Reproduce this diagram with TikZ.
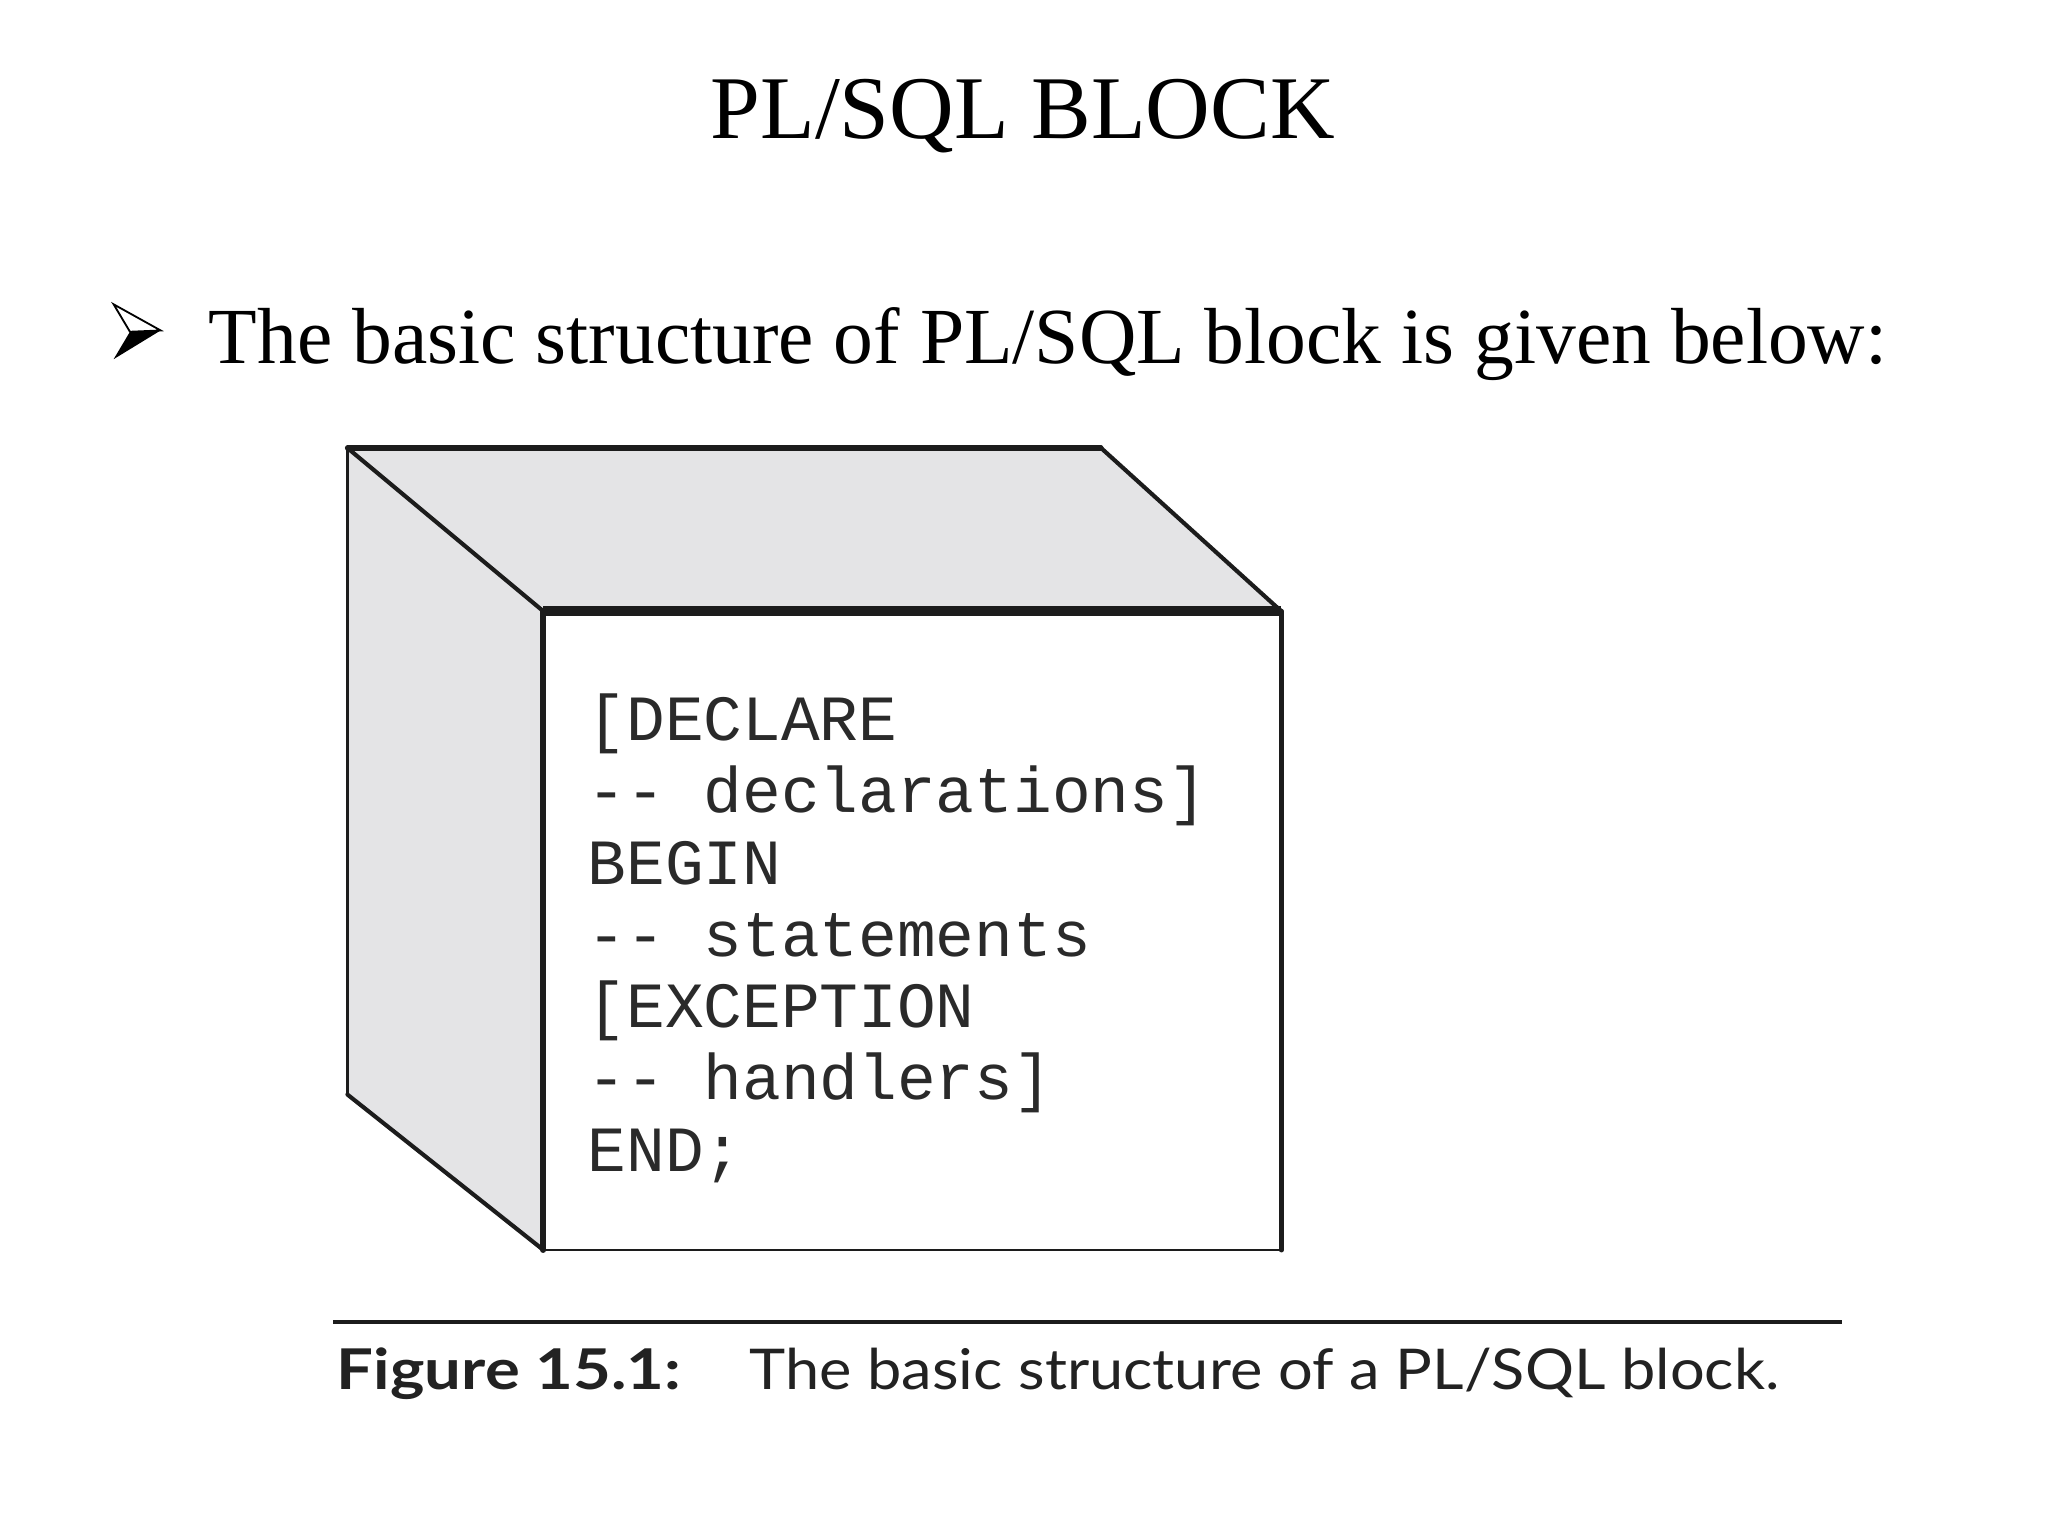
\documentclass[tikz,border=0pt]{standalone}
\usepackage{fontspec}
\setmainfont{Liberation Serif}
\newfontfamily\codefont{Liberation Mono}
\newfontfamily\capfont{Lato}
\definecolor{facegray}{HTML}{E4E4E6}
\definecolor{boxline}{HTML}{1C1C1C}
\definecolor{codegray}{HTML}{2A2A2A}
\definecolor{capgray}{HTML}{222222}
\begin{document}
\begin{tikzpicture}[x=0.02cm,y=-0.02cm,
  txt/.style={inner sep=0pt, outer sep=0pt},
  codeline/.style={txt, anchor=base west, font=\codefont\fontsize{28.1}{30}\selectfont, text=codegray},
  boxedge/.style={draw=boxline, line cap=round, line join=miter},
  ]
\useasboundingbox (0,0) rectangle (1568,1176);
\fill[white] (0,0) rectangle (1568,1176);

% title
\node[txt, anchor=base, font=\fontsize{39}{44}\selectfont] (title) at (783,106) {PL/SQL BLOCK};

% bullet
\coordinate (btl) at (87,233);
\coordinate (btip) at (123,253);
\coordinate (bnotch) at (99.5,254);
\coordinate (bbl) at (87,275);
\filldraw[fill=white, draw=black, line width=0.8pt, line join=miter] (btl) -- (btip) -- (bnotch) -- cycle;
\fill[black] (bnotch) -- (btip) -- (bbl) -- cycle;
\node[txt, anchor=base west, font=\fontsize{34.65}{40}\selectfont] (bullet) at (160,278) {The basic structure of PL/SQL block is given below:};

% box
\coordinate (A) at (266,343);
\coordinate (B) at (843,343);
\coordinate (C) at (981,468);
\coordinate (D) at (416,468);
\coordinate (E) at (416,957);
\coordinate (F) at (981,957);
\coordinate (G) at (266,838);
\fill[facegray] (A) -- (B) -- (C) -- (D) -- cycle;
\fill[facegray] (A) -- (D) -- (E) -- (G) -- cycle;
\fill[white] (D) rectangle (F);
\draw[boxedge, line width=1.3pt] (G) -- (A);
\draw[boxedge, line width=2.2pt] (A) -- (B);
\draw[boxedge, line width=1.8pt] (B) -- (C);
\draw[boxedge, line width=1.8pt] (A) -- (D);
\draw[boxedge, line width=1.8pt] (G) -- (E);
\draw[boxedge, line width=4.2pt, line cap=butt] (D) -- (C);
\draw[boxedge, line width=2.6pt] (D) -- (E);
\draw[boxedge, line width=2.2pt] (C) -- (F);
\draw[boxedge, line width=1.2pt] (E) -- (F);

% code
\node[codeline] (l1) at (450,567) {[DECLARE};
\node[codeline] (l2) at (450,622) {-- declarations]};
\node[codeline] (l3) at (450,677) {BEGIN};
\node[codeline] (l4) at (450,732) {-- statements};
\node[codeline] (l5) at (450,787) {[EXCEPTION};
\node[codeline] (l6) at (450,842) {-- handlers]};
\node[codeline] (l7) at (450,897) {END;};

% caption rule
\coordinate (r1) at (255,1012);
\coordinate (r2) at (1410,1012);
\draw[line width=1.7pt, draw=boxline] (r1) -- (r2);
\node[txt, anchor=base west, font=\capfont\bfseries\fontsize{24.5}{28}\selectfont, text=capgray] (figlab) at (258,1064) {\scalebox{1.16}[1]{Figure 15.1:}};
\node[txt, anchor=base west, font=\capfont\fontsize{24.5}{28}\selectfont, text=capgray] (figcap) at (574,1064) {\scalebox{1.09}[1]{The basic structure of a PL/SQL block.}};
\end{tikzpicture}
\end{document}
